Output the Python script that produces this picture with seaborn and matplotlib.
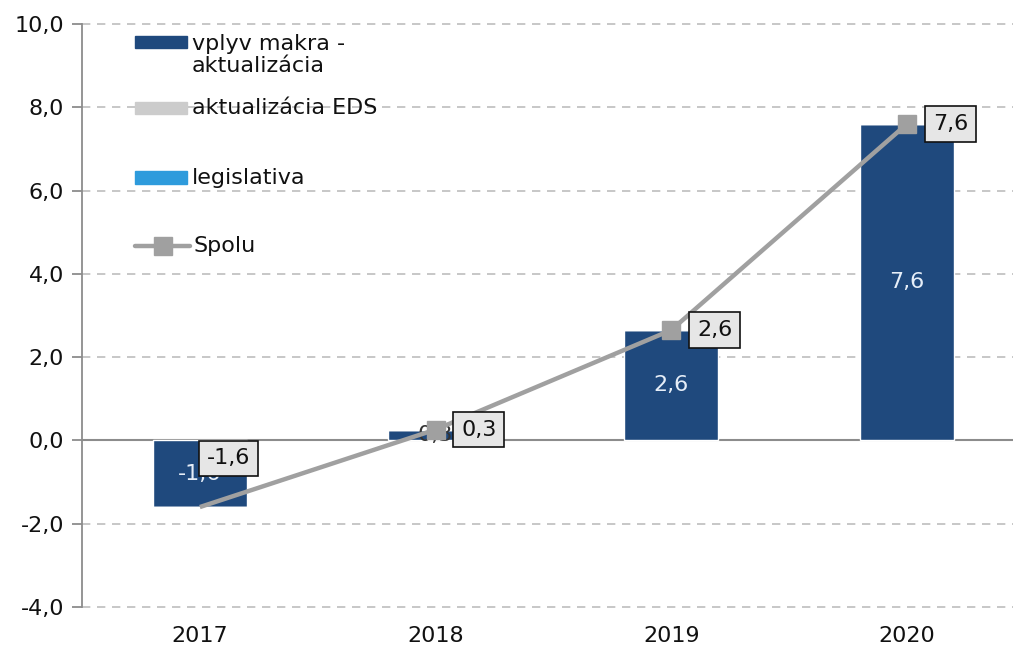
import numpy as np
import pandas as pd
import matplotlib
matplotlib.use("Agg")
import matplotlib.pyplot as plt
import seaborn as sns
from matplotlib.patches import Rectangle
from matplotlib.lines import Line2D
from matplotlib.ticker import FuncFormatter, MultipleLocator

# ==========================================
# Data
# ==========================================
years = ["2017", "2018", "2019", "2020"]
makra = [-1.6, 0.26, 2.65, 7.6]      # vplyv makra - aktualizácia
eds = [0.0, 0.0, 0.0, 0.0]           # aktualizácia EDS
legislativa = [0.0, 0.0, 0.0, 0.0]   # legislativa
spolu = [-1.6, 0.26, 2.65, 7.6]      # Spolu

legend_labels = ["vplyv makra -\naktualizácia", "aktualizácia EDS", "legislativa", "Spolu"]

c_makra = "#1f497d"
c_eds = "#cccccc"
c_leg = "#2e9bdc"
c_line = "#a0a0a0"

df = pd.DataFrame({"rok": years, "makra": makra, "eds": eds, "leg": legislativa})

sns.set_theme(style="white")
plt.rcParams["font.family"] = ["DejaVu Sans"]
FS = 16

fig = plt.figure(figsize=(10.13, 6.52), dpi=100)
ax = fig.add_axes([82 / 1013, 45 / 652, (1013 - 82) / 1013, (607 - 24) / 652])

# bars (stacked: makra + EDS + legislativa)
sns.barplot(data=df, x="rok", y="makra", color=c_makra, width=0.4, ax=ax,
            saturation=1, zorder=3)
ax.bar(range(4), eds, bottom=makra, width=0.4, color=c_eds, zorder=3)
ax.bar(range(4), legislativa, bottom=np.add(makra, eds), width=0.4, color=c_leg, zorder=3)

# values inside bars
for i, v in enumerate(makra):
    col = "#e6eef8" if abs(v) > 1 else "#333333"
    ax.text(i, v / 2, f"{v:.1f}".replace(".", ","), ha="center", va="center",
            color=col, fontsize=FS, zorder=4)

# total line
ax.plot(range(4), spolu, color=c_line, lw=3.2, zorder=5, marker="s",
        markersize=13, markevery=[1, 2, 3], solid_capstyle="butt")

# total labels
for i, v in enumerate(spolu):
    off = (5, 35) if i == 0 else (18.5, 0)
    ax.annotate(f"{v:.1f}".replace(".", ","), (i, v), xytext=off,
                textcoords="offset points", ha="left", va="center", fontsize=FS,
                zorder=6, color="#111111",
                bbox=dict(boxstyle="square,pad=0.35", fc="#e6e6e6", ec="#111111", lw=1.2))

# axes styling
ax.set_ylim(-4, 10)
ax.set_xlim(-0.5, 3.45)
ax.yaxis.set_major_locator(MultipleLocator(2))
ax.yaxis.set_major_formatter(FuncFormatter(lambda y, p: f"{y:.1f}".replace(".", ",")))
ax.set_xlabel("")
ax.set_ylabel("")
for s in ["top", "right", "bottom"]:
    ax.spines[s].set_visible(False)
ax.spines["left"].set_color("#8c8c8c")
ax.spines["left"].set_linewidth(1.3)
ax.tick_params(axis="y", left=True, length=7, width=1.3, color="#8c8c8c",
               labelsize=FS, labelcolor="#111111", pad=6)
ax.tick_params(axis="x", bottom=False, labelsize=FS, labelcolor="#111111", pad=8)

for y in np.arange(-4, 11, 2):
    if y == 0:
        ax.axhline(0, color="#8c8c8c", lw=1.5, zorder=2)
    else:
        ax.axhline(y, color="#bdbdbd", lw=1.2, ls=(0, (5, 4)), zorder=1, clip_on=False)

# legend (drawn by hand to follow the original spacing)
tr = ax.transAxes
hx0, hx1, tx = 0.057, 0.113, 0.118
handle_y = [0.969, 0.856, 0.736]
text_y = [0.947, 0.856, 0.736]
for hy, ty, col, lab in zip(handle_y, text_y, [c_makra, c_eds, c_leg], legend_labels[:3]):
    ax.add_patch(Rectangle((hx0, hy - 0.011), hx1 - hx0, 0.022, transform=tr,
                           color=col, clip_on=False, zorder=7))
    ax.text(tx, ty, lab, transform=tr, ha="left", va="center",
            fontsize=FS, color="#111111", linespacing=1.17)
ax.add_line(Line2D([hx0, hx1 + 0.003], [0.619, 0.619], transform=tr, color=c_line,
                   lw=3.2, clip_on=False))
ax.add_line(Line2D([(hx0 + hx1) / 2 + 0.002], [0.619], transform=tr, color=c_line,
                   marker="s", markersize=13, ls="none", clip_on=False))
ax.text(tx + 0.002, 0.619, legend_labels[3], transform=tr, ha="left", va="center",
        fontsize=FS, color="#111111")

fig.savefig("out.png", dpi=100)
